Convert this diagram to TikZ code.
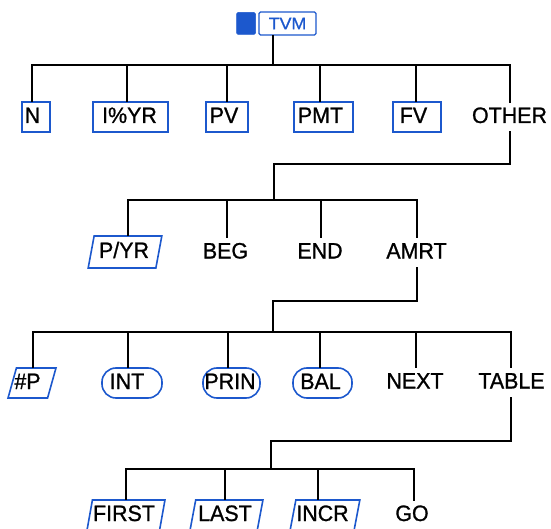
\documentclass[tikz,border=0pt]{standalone}
\usepackage{fontspec}
\setmainfont{Liberation Sans}
\newfontfamily\keyfont{Liberation Sans}[FakeStretch=0.96,FakeBold=1.0]
\newfontfamily\tvmfont{Liberation Sans}[FakeStretch=1.08,FakeBold=1.0]
\usetikzlibrary{shapes.geometric}
\definecolor{hpblue}{RGB}{28,88,205}
\begin{document}
\begin{tikzpicture}[x=1pt,y=-1pt,
  lbl/.style={font=\keyfont\fontsize{22.3}{22.3}\selectfont, text=black, text height=16pt, text depth=4pt, inner sep=0pt},
  tshift/.style={execute at begin node={\hspace*{#1}}},
  keybox/.style={lbl, draw=hpblue, line width=1.6pt, minimum height=30pt},
  plain/.style={lbl, minimum height=30pt},
  slantbox/.style={lbl, trapezium, trapezium left angle=77, trapezium right angle=103,
     trapezium stretches=true, draw=hpblue, line width=1.6pt, minimum height=30pt},
  ovalbox/.style={lbl, draw=hpblue, line width=1.6pt, rounded corners=14pt, minimum height=30pt},
  wire/.style={line width=1.8pt, black, line cap=rect}]
\useasboundingbox (0,0) rectangle (551,529);
% top
\node[fill=hpblue, draw=hpblue, line width=0.5pt, rounded corners=1.5pt, minimum width=19pt, minimum height=22pt, inner sep=0pt] (shift) at (246,23.5) {};
\node[draw=hpblue, line width=1.4pt, rounded corners=1.5pt, minimum width=57pt, minimum height=23pt, inner sep=0pt,
      font=\tvmfont\fontsize{16.5}{16.5}\selectfont, text=hpblue] (tvm) at (287.5,23.5) {TVM};
% level 1
\node[keybox, tshift=-7pt, minimum width=28pt] (N) at (36,117) {N};
\node[keybox, tshift=-2pt, minimum width=75pt] (IYR) at (130.5,117) {I\%YR};
\node[keybox, tshift=-6pt, minimum width=42pt] (PV) at (227,117) {PV};
\node[keybox, tshift=-6pt, minimum width=59pt] (PMT) at (323.5,117) {PMT};
\node[keybox, tshift=-7pt, minimum width=48pt] (FV) at (417,117) {FV};
\node[plain] (OTHER) at (509.5,117) {OTHER};
% level 2
\node[slantbox, tshift=-2pt, minimum width=74pt, minimum height=32pt] (PYR) at (125,252) {P/YR};
\node[plain] (BEG) at (225.5,252.5) {BEG};
\node[plain] (END) at (320,252.5) {END};
\node[plain] (AMRT) at (416.5,252.5) {AMRT};
% level 3
\node[slantbox, tshift=-9pt, minimum width=48pt] (HP) at (32,383) {\#P};
\node[ovalbox, tshift=-10pt, minimum width=60pt] (INT) at (132,383) {INT};
\node[ovalbox, tshift=-3pt, minimum width=57pt] (PRIN) at (231.5,383) {PRIN};
\node[ovalbox, tshift=-4pt, minimum width=59pt] (BAL) at (322.5,383) {BAL};
\node[plain] (NEXT) at (415,382.5) {NEXT};
\node[plain] (TABLE) at (511.5,382.5) {TABLE};
% level 4
\node[slantbox, tshift=-4pt, minimum width=78pt] (FIRST) at (126,515) {FIRST};
\node[slantbox, tshift=-3pt, minimum width=73pt] (LAST) at (226.5,515) {LAST};
\node[slantbox, tshift=-5pt, minimum width=70pt] (INCR) at (325,515) {INCR};
\node[plain] (GO) at (412,515) {GO};
% wires level 1
\coordinate (j0) at (273,65);
\coordinate (dN) at (32,65);
\coordinate (dI) at (127,65);
\coordinate (dPV) at (227,65);
\coordinate (dPMT) at (320,65);
\coordinate (dFV) at (416,65);
\coordinate (dO) at (510,65);
\draw[wire] (tvm.south -| j0) -- (j0);
\draw[wire] (dN) -- (dO);
\foreach \d/\n in {dN/N, dI/IYR, dPV/PV, dPMT/PMT, dFV/FV, dO/OTHER}
  \draw[wire] (\d) -- (\d |- \n.north);
% wires level 2
\coordinate (k1) at (510,164);
\coordinate (k2) at (274,164);
\coordinate (k3) at (274,200);
\coordinate (dPY) at (128,200);
\coordinate (dBEG) at (227,200);
\coordinate (dEND) at (321,200);
\coordinate (dAM) at (417,200);
\draw[wire] (OTHER.south -| k1) -- (k1) -- (k2) -- (k3);
\draw[wire] (dPY) -- (dAM);
\foreach \d/\n in {dPY/PYR, dBEG/BEG, dEND/END, dAM/AMRT}
  \draw[wire] (\d) -- (\d |- \n.north);
% wires level 3
\coordinate (m1) at (417,301);
\coordinate (m2) at (273,301);
\coordinate (m3) at (273,332);
\coordinate (dHP) at (33,332);
\coordinate (dINT) at (128,332);
\coordinate (dPRIN) at (228,332);
\coordinate (dBAL) at (320,332);
\coordinate (dNX) at (416,332);
\coordinate (dTB) at (511,332);
\draw[wire] (AMRT.south -| m1) -- (m1) -- (m2) -- (m3);
\draw[wire] (dHP) -- (dTB);
\foreach \d/\n in {dHP/HP, dINT/INT, dPRIN/PRIN, dBAL/BAL, dNX/NEXT, dTB/TABLE}
  \draw[wire] (\d) -- (\d |- \n.north);
% wires level 4
\coordinate (t1) at (511,441);
\coordinate (t2) at (271,441);
\coordinate (t3) at (271,469);
\coordinate (dF) at (126,469);
\coordinate (dL) at (225,469);
\coordinate (dIN) at (318,469);
\coordinate (dGO) at (414,469);
\draw[wire] (TABLE.south -| t1) -- (t1) -- (t2) -- (t3);
\draw[wire] (dF) -- (dGO);
\foreach \d/\n in {dF/FIRST, dL/LAST, dIN/INCR, dGO/GO}
  \draw[wire] (\d) -- (\d |- \n.north);
\end{tikzpicture}
\end{document}
